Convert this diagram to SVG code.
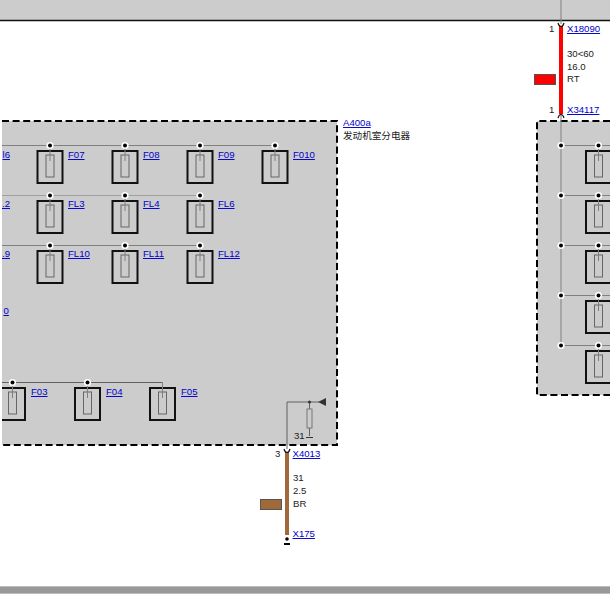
<svg xmlns="http://www.w3.org/2000/svg" xmlns:xlink="http://www.w3.org/1999/xlink" width="610" height="603" viewBox="0 0 610 603">
<style>
text{font-family:"Liberation Sans",Arial,"Noto Sans CJK SC",sans-serif;font-size:9.6px;fill:#222}
.l{fill:#00c;text-decoration:underline}
.bus{stroke:#808080;stroke-width:1;fill:none}
.pale{stroke:#a0a0a0}
.dark{stroke:#606060}
.dash{fill:none;stroke:#000;stroke-width:2;stroke-dasharray:7 3.6}
.out{fill:none;stroke:#111;stroke-width:2}
.in{fill:#ccc;stroke:#666;stroke-width:1}
.cap{fill:none;stroke:#111;stroke-width:1.2}
</style>
<defs>
<g id="fuse"><rect class="out" x="-12.500" y="6" width="25" height="32"/><rect class="in" x="-4" y="10" width="8" height="22"/><path class="bus" d="M0 0V16"/></g>
<g id="dot"><circle r="3.6" fill="#fff"/><circle r="2" fill="#000"/></g>
</defs>
<rect id="bg" width="610" height="603" fill="#fff"/>
<g id="top-band"><rect width="610" height="20" fill="#ccc"/><path d="M0 20.500H610" stroke="#111" stroke-width="1.5"/></g>
<g id="bottom-band"><rect y="586" width="610" height="8" fill="#999"/><path d="M0 586.500H610M0 593.500H610" stroke="#bbb"/></g>
<g id="A400a">
<rect x="2" y="121" width="335" height="324" fill="#ccc"/>
<path class="dash" d="M2 121H337V445H2"/>
<text class="l" x="343" y="126">A400a</text>
<text x="343" y="139" fill="#333">发动机室分电器</text>
</g>
<g id="X34117-box">
<rect x="537" y="121" width="73" height="274" fill="#ccc"/>
<path class="dash" d="M610 121H537V395H610"/>
</g>
<g id="connectors">
<path class="bus" d="M561 0V24M561 114V345"/>
<path class="bus" d="M2 145.500H275M2 245.500H200"/>
<path class="bus pale" d="M2 195.500H200"/>
<path class="bus dark" d="M2 382.500H162.500V388"/>
<path class="bus" d="M561 145.500H610M561 195.500H610M561 245.500H610M561 295.500H610M561 345.500H610"/>
<path d="M561 26V114" stroke="#f00" stroke-width="4"/>
<path class="cap" d="M558 23Q559 26.500 561 26.500Q563 26.500 564 23M558 118Q559 114.500 561 114.500Q563 114.500 564 118"/>
<path d="M287 452V535" stroke="#a0693a" stroke-width="4"/>
<path class="cap" d="M284 449Q285 452.500 287 452.500Q289 452.500 290 449"/>
<path class="bus dark" d="M287 449V402H319"/>
<path class="bus dark" d="M309.500 402V409M309.500 428V436"/>
<rect x="307" y="409" width="5" height="19" fill="#ccc" stroke="#777"/>
<path d="M326 398V406L318 402Z" fill="#333"/>
<circle cx="309.500" cy="402" r="1.500" fill="#333"/>
<path d="M306 437.500H313" stroke="#333"/>
<circle cx="287" cy="539" r="1.800" fill="#000"/>
<path d="M284 544H290" stroke="#000" stroke-width="2"/>
</g>
<g id="F07"><use xlink:href="#fuse" x="50" y="145"/><use xlink:href="#dot" x="50" y="145.500"/><text class="l" x="68" y="158">F07</text></g>
<g id="F08"><use xlink:href="#fuse" x="125" y="145"/><use xlink:href="#dot" x="125" y="145.500"/><text class="l" x="143" y="158">F08</text></g>
<g id="F09"><use xlink:href="#fuse" x="200" y="145"/><use xlink:href="#dot" x="200" y="145.500"/><text class="l" x="218" y="158">F09</text></g>
<g id="F010"><use xlink:href="#fuse" x="275" y="145"/><use xlink:href="#dot" x="275" y="145.500"/><text class="l" x="293" y="158">F010</text></g>
<g id="FL3"><use xlink:href="#fuse" x="50" y="195"/><use xlink:href="#dot" x="50" y="195.500"/><text class="l" x="68" y="207">FL3</text></g>
<g id="FL4"><use xlink:href="#fuse" x="125" y="195"/><use xlink:href="#dot" x="125" y="195.500"/><text class="l" x="143" y="207">FL4</text></g>
<g id="FL6"><use xlink:href="#fuse" x="200" y="195"/><use xlink:href="#dot" x="200" y="195.500"/><text class="l" x="218" y="207">FL6</text></g>
<g id="FL10"><use xlink:href="#fuse" x="50" y="245"/><use xlink:href="#dot" x="50" y="245.500"/><text class="l" x="68" y="257">FL10</text></g>
<g id="FL11"><use xlink:href="#fuse" x="125" y="245"/><use xlink:href="#dot" x="125" y="245.500"/><text class="l" x="143" y="257">FL11</text></g>
<g id="FL12"><use xlink:href="#fuse" x="200" y="245"/><use xlink:href="#dot" x="200" y="245.500"/><text class="l" x="218" y="257">FL12</text></g>
<g id="F03"><use xlink:href="#fuse" x="12.500" y="382"/><use xlink:href="#dot" x="12.500" y="382.500"/><text class="l" x="31" y="395">F03</text></g>
<g id="F04"><use xlink:href="#fuse" x="87.500" y="382"/><use xlink:href="#dot" x="87.500" y="382.500"/><text class="l" x="106" y="395">F04</text></g>
<g id="F05"><use xlink:href="#fuse" x="162.500" y="382"/><text class="l" x="181" y="395">F05</text></g>
<g id="edge-labels">
<rect x="0" y="121" width="2" height="324" fill="#fff"/>
<text class="l" x="2.500" y="158">l6</text>
<text class="l" x="2" y="207">.2</text>
<text class="l" x="2" y="257">.9</text>
<text class="l" x="3.500" y="314">0</text>
</g>
<g id="right-fuses">
<use xlink:href="#fuse" x="598.500" y="145"/><use xlink:href="#fuse" x="598.500" y="195"/><use xlink:href="#fuse" x="598.500" y="245"/><use xlink:href="#fuse" x="598.500" y="295"/><use xlink:href="#fuse" x="598.500" y="345"/>
<use xlink:href="#dot" x="561" y="145.500"/><use xlink:href="#dot" x="561" y="195.500"/><use xlink:href="#dot" x="561" y="245.500"/><use xlink:href="#dot" x="561" y="295.500"/><use xlink:href="#dot" x="561" y="345.500"/>
<use xlink:href="#dot" x="598.500" y="145.500"/><use xlink:href="#dot" x="598.500" y="195.500"/><use xlink:href="#dot" x="598.500" y="245.500"/><use xlink:href="#dot" x="598.500" y="295.500"/><use xlink:href="#dot" x="598.500" y="345.500"/>
</g>
<g id="wire-red">
<text x="549" y="32">1</text><text class="l" x="567" y="32">X18090</text>
<text x="567" y="57">30&lt;60</text><text x="567" y="70">16.0</text><text x="567" y="82">RT</text>
<rect x="534.500" y="74.500" width="21" height="10" fill="#f00" stroke="#555"/>
<text x="549" y="113">1</text><text class="l" x="567" y="113">X34117</text>
</g>
<g id="wire-brown">
<text x="275" y="457">3</text><text class="l" x="292.500" y="457">X4013</text>
<text x="293" y="481">31</text><text x="293" y="494">2.5</text><text x="293" y="507">BR</text>
<rect x="260.500" y="499.500" width="21" height="10" fill="#a0693a" stroke="#555"/>
<text class="l" x="292.500" y="537">X175</text>
<text x="294" y="439" fill="#444">31</text>
</g>
</svg>
